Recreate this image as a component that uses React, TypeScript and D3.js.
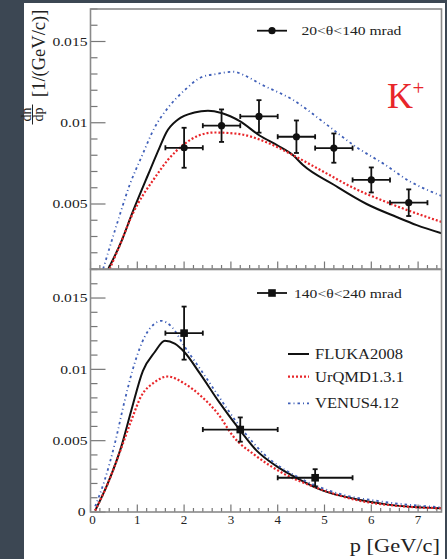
import React from "react";
import { scaleLinear, line, curveMonotoneX, range } from "d3";

const W = 447;
const H = 559;
const font = "'Liberation Serif', 'Times New Roman', serif";

const red = "#e8262a";
const blue = "#3f5fb8";
const frameCol = "#8a8a8a";

// model curves, upper panel (20<θ<140 mrad): [p, dn/dp]
const flukaTop = [
  [0.38, 0.001], [0.66, 0.0027], [0.9, 0.0045], [1.23, 0.0068], [1.48, 0.0085],
  [1.62, 0.0094], [1.87, 0.0102], [2.22, 0.01063], [2.51, 0.01074], [2.8, 0.0106],
  [3.19, 0.0101], [3.62, 0.0092], [4.0, 0.0086], [4.33, 0.008], [4.54, 0.0074],
  [5.19, 0.0062], [5.9, 0.005], [6.54, 0.0042], [6.97, 0.0037], [7.5, 0.0032],
];
const urqmdTop = [
  [0.41, 0.001], [0.66, 0.0027], [0.87, 0.0042], [1.01, 0.005], [1.37, 0.0066],
  [1.65, 0.0077], [2.01, 0.0087], [2.3, 0.0092], [2.65, 0.0094], [3.19, 0.0093],
  [3.76, 0.0088], [4.33, 0.008], [4.97, 0.007], [5.61, 0.006], [6.25, 0.0052],
  [6.89, 0.0045], [7.5, 0.0039],
];
const venusTop = [
  [0.27, 0.001], [0.59, 0.004], [0.84, 0.0062], [1.09, 0.0079], [1.37, 0.0097],
  [1.65, 0.0109], [2.01, 0.012], [2.37, 0.0128], [2.69, 0.013], [3.05, 0.01314],
  [3.3, 0.0129], [3.62, 0.0124], [4.33, 0.0114], [5.04, 0.0099], [5.68, 0.0085],
  [6.25, 0.0075], [6.82, 0.0064], [7.5, 0.0055],
];

// model curves, lower panel (140<θ<240 mrad)
const flukaBot = [
  [0.1, 0.0001], [0.37, 0.002], [0.66, 0.0046], [0.87, 0.0071], [1.12, 0.0099],
  [1.37, 0.0112], [1.59, 0.012], [1.8, 0.0118], [2.01, 0.0112], [2.34, 0.0097],
  [2.75, 0.0077], [3.18, 0.0058], [3.55, 0.0043], [3.98, 0.0032], [4.4, 0.0024],
  [4.97, 0.0015], [5.68, 0.0009], [6.4, 0.0005], [7.5, 0.00026],
];
const urqmdBot = [
  [0.1, 0.0001], [0.37, 0.002], [0.66, 0.0045], [0.87, 0.0064], [1.08, 0.0081],
  [1.37, 0.0091], [1.65, 0.0095], [2.01, 0.009], [2.37, 0.0081], [2.72, 0.0069],
  [3.05, 0.0053], [3.55, 0.0039], [4.12, 0.0027], [4.83, 0.0017], [5.68, 0.00084],
  [6.5, 0.00045], [7.5, 0.00026],
];
const venusBot = [
  [0.1, 0.0004], [0.3, 0.0022], [0.52, 0.0048], [0.73, 0.0078], [0.94, 0.0104],
  [1.16, 0.0123], [1.37, 0.0132], [1.51, 0.0134], [1.73, 0.013], [2.01, 0.0116],
  [2.37, 0.0099], [2.72, 0.0082], [3.19, 0.006], [3.76, 0.0039], [4.4, 0.0025],
  [5.19, 0.0014], [6.25, 0.00072], [7.5, 0.00033],
];

// measured points
const pTop = [2.0, 2.8, 3.6, 4.4, 5.2, 6.0, 6.8];
const vTop = [0.00846, 0.00982, 0.01039, 0.00914, 0.00844, 0.00648, 0.00508];
const eTop = [0.00123, 0.001, 0.001, 0.001, 0.0009, 0.00077, 0.00082];
const xeTop = [0.4, 0.4, 0.4, 0.4, 0.4, 0.4, 0.4];

const pBot = [2.0, 3.2, 4.8];
const vBot = [0.01254, 0.00578, 0.0024];
const eBot = [0.00186, 0.00085, 0.0006];
const xeBot = [0.4, 0.8, 0.8];

const yTickLabels = [
  { v: 0.015, t: "0.015" },
  { v: 0.01, t: "0.01" },
  { v: 0.005, t: "0.005" },
];
const xTickLabels = [0, 1, 2, 3, 4, 5, 6, 7];
const models = ["FLUKA2008", "UrQMD1.3.1", "VENUS4.12"];

const x = scaleLinear().domain([0, 7.5]).range([90.5, 441.5]);
const yTop = scaleLinear().domain([0.001, 0.017]).range([269, 9]);
const yBot = scaleLinear().domain([0, 0.017]).range([512, 269.5]);

const styles = [
  { stroke: "#111", width: 2, dash: undefined },
  { stroke: red, width: 2.2, dash: "2,2" },
  { stroke: blue, width: 1.8, dash: "2.5,3,1,3" },
];

const Txt = ({ x, y, sx = 1, size, anchor = "start", fill = "#222", children }: any) => (
  <text
    transform={`translate(${x},${y}) scale(${sx},1)`}
    fontFamily={font}
    fontSize={size}
    textAnchor={anchor}
    fill={fill}
  >
    {children}
  </text>
);

const Panel = ({ yScale, curves, pts, vals, errs, xerrs, square, clipId, minV, showZero }: any) => {
  const [y0, y1] = yScale.range();
  const mk = line<number[]>()
    .x((d) => x(d[0]))
    .y((d) => yScale(d[1]))
    .curve(curveMonotoneX);
  const yMinor = range(Math.round(minV * 1000), 18).map((k) => k / 1000);
  const xMinor = range(0, 38).map((k) => k / 5);
  return (
    <g>
      <defs>
        <clipPath id={clipId}>
          <rect x={x(0)} y={y1} width={x(7.5) - x(0)} height={y0 - y1} />
        </clipPath>
      </defs>
      {/* y ticks */}
      {yMinor.map((v) => {
        const major = Math.abs((v * 1000) % 5) < 1e-6;
        return (
          <line key={v} x1={x(0)} x2={x(0) + (major ? 15 : 7)} y1={yScale(v)} y2={yScale(v)} stroke="#777" strokeWidth={1.2} />
        );
      })}
      {/* x ticks */}
      {xMinor.map((p) => {
        const major = Math.abs(p - Math.round(p)) < 1e-6;
        return (
          <line key={p} x1={x(p)} x2={x(p)} y1={y0} y2={y0 - (major ? 7.5 : 4)} stroke="#777" strokeWidth={1.2} />
        );
      })}
      <g clipPath={`url(#${clipId})`}>
        {curves.map((c: any, i: number) => (
          <path
            key={i}
            d={mk(c) || ""}
            fill="none"
            stroke={styles[i].stroke}
            strokeWidth={styles[i].width}
            strokeDasharray={styles[i].dash}
          />
        ))}
      </g>
      {/* data points */}
      {pts.map((p: number, i: number) => {
        const cx = x(p);
        const cy = yScale(vals[i]);
        const ya = yScale(vals[i] + errs[i]);
        const yb = yScale(vals[i] - errs[i]);
        const xa = x(p - xerrs[i]);
        const xb = x(p + xerrs[i]);
        return (
          <g key={p} stroke="#111" strokeWidth={1.8}>
            <line x1={cx} x2={cx} y1={ya} y2={yb} />
            <line x1={xa} x2={xb} y1={cy} y2={cy} />
            <line x1={cx - 2.5} x2={cx + 2.5} y1={ya} y2={ya} />
            <line x1={cx - 2.5} x2={cx + 2.5} y1={yb} y2={yb} />
            <line x1={xa} x2={xa} y1={cy - 2.5} y2={cy + 2.5} />
            <line x1={xb} x2={xb} y1={cy - 2.5} y2={cy + 2.5} />
            {square ? (
              <rect x={cx - 3.8} y={cy - 3.8} width={7.6} height={7.6} fill="#111" stroke="none" />
            ) : (
              <circle cx={cx} cy={cy} r={3.6} fill="#111" stroke="none" />
            )}
          </g>
        );
      })}
      {/* y labels */}
      {yTickLabels.map((d) => (
        <Txt key={d.t} x={87.5} y={yScale(d.v) + 4.2} sx={1.3} size={12} anchor="end">
          {d.t}
        </Txt>
      ))}
      {showZero && (
        <Txt x={85.5} y={yScale(0) + 3.5} sx={1.3} size={12} anchor="end">0</Txt>
      )}
      <rect x={x(0)} y={y1} width={x(7.5) - x(0)} height={y0 - y1} fill="none" stroke={frameCol} strokeWidth={1.6} />
    </g>
  );
};

export default function App() {
  const legendLine = (y: number, i: number) => (
    <line x1={288} x2={309} y1={y} y2={y} stroke={styles[i].stroke} strokeWidth={styles[i].width} strokeDasharray={styles[i].dash} />
  );
  return (
    <svg width={W} height={H} style={{ position: "absolute", left: 0, top: 0, display: "block" }}>
      <rect x={0} y={0} width={W} height={H} fill="#3c4753" />
      <rect x={24} y={3} width={421} height={H - 3} fill="#fff" />

      <Panel
        yScale={yTop}
        curves={[flukaTop, urqmdTop, venusTop]}
        pts={pTop}
        vals={vTop}
        errs={eTop}
        xerrs={xeTop}
        square={false}
        clipId="clipTop"
        minV={0.001}
        showZero={false}
      />
      <Panel
        yScale={yBot}
        curves={[flukaBot, urqmdBot, venusBot]}
        pts={pBot}
        vals={vBot}
        errs={eBot}
        xerrs={xeBot}
        square={true}
        clipId="clipBot"
        minV={0}
        showZero={true}
      />

      {/* x tick labels */}
      {xTickLabels.map((p) => (
        <Txt key={p} x={x(p) + (p === 0 ? 2 : 0)} y={524} size={13} anchor="middle">
          {p}
        </Txt>
      ))}
      <Txt x={440} y={552} sx={1.18} size={19} anchor="end">p [GeV/c]</Txt>

      {/* y title */}
      <g transform="translate(32.5,114.5) rotate(-90)" fontFamily={font} fill="#222">
        <line x1={-10} x2={10} y1={0} y2={0} stroke="#222" strokeWidth={1} />
        <text x={0} y={-1.8} fontSize={14} textAnchor="middle">dn</text>
        <text x={0} y={10.2} fontSize={14} textAnchor="middle">dp</text>
      </g>
      <g transform="translate(45,97) rotate(-90)">
        <text fontFamily={font} fontSize={18.5} fill="#222">[1/(GeV/c)]</text>
      </g>

      {/* legend upper */}
      <line x1={257} x2={287} y1={30.7} y2={30.7} stroke="#111" strokeWidth={1.8} />
      <circle cx={272} cy={30.7} r={3.6} fill="#111" />
      <Txt x={301.5} y={35} sx={1.2} size={13}>20&lt;θ&lt;140 mrad</Txt>

      <Txt x={387} y={108} size={36} fill={red}>K</Txt>
      <Txt x={412.5} y={95} size={21} fill={red}>+</Txt>

      {/* legend lower */}
      <line x1={257} x2={287} y1={293} y2={293} stroke="#111" strokeWidth={1.8} />
      <rect x={268.2} y={289.2} width={7.6} height={7.6} fill="#111" />
      <Txt x={294} y={298} sx={1.2} size={13}>140&lt;θ&lt;240 mrad</Txt>

      {[354, 376.7, 403.3].map((ly, i) => (
        <g key={models[i]}>
          {legendLine(ly, i)}
          <Txt x={315} y={ly + 4.8} sx={1.18} size={14}>{models[i]}</Txt>
        </g>
      ))}
    </svg>
  );
}
